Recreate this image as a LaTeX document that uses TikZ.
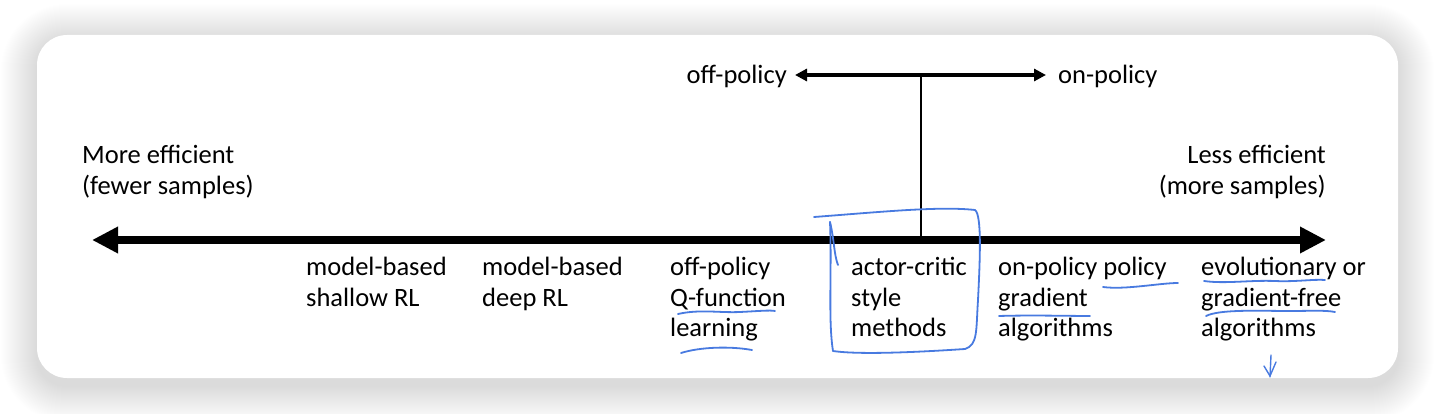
\documentclass[tikz,border=0pt]{standalone}
\usepackage{fontspec}
\setmainfont{Carlito}
\usetikzlibrary{arrows.meta}
\definecolor{pen}{RGB}{72,122,224}
\begin{document}
\begin{tikzpicture}[x=1pt,y=-1pt,
  lbl/.style={inner sep=0pt, align=left, font=\fontsize{26.5}{31}\selectfont},
  ink/.style={draw=pen, line width=1.8pt, line cap=round, line join=round},
  bigarrow/.style={line width=8pt, {Triangle[length=26pt,width=25pt]}-{Triangle[length=26pt,width=25pt]}},
  toparrow/.style={line width=3.5pt, {Triangle[length=12pt,width=12pt]}-{Triangle[length=12pt,width=12pt]}}]
\useasboundingbox (0,0) rectangle (1436,414);
\fill[white] (0,0) rectangle (1436,414);
% shadow
\foreach \i in {1,...,36}{
  \fill[black, opacity=0.0035, rounded corners=30+\i] (37-\i,35-\i+5) rectangle (1398+\i,378+\i+8);
}
\fill[white, rounded corners=30] (37,35) rectangle (1398,378);
% main axis
\coordinate (L) at (92,240);
\coordinate (R) at (1326,240);
\draw[bigarrow] (L) -- (R);
% top arrow
\coordinate (tl) at (795,75);
\coordinate (tr) at (1046,75);
\coordinate (tm) at (921,75);
\coordinate (bm) at (921,240);
\draw[toparrow] (tl) -- (tr);
\draw[line width=1.8pt] (tm) -- (bm);
\node[lbl, anchor=base east] (off) at (787,84) {off-policy};
\node[lbl, anchor=base west] (on) at (1058,84) {on-policy};
% side labels (anchor = baseline of last line)
\node[lbl, anchor=base west] (more) at (82,195) {More efficient\\(fewer samples)};
\node[lbl, anchor=base east, align=right] (less) at (1326,195) {Less efficient\\(more samples)};
% bottom labels
\node[lbl, anchor=base west] (mbs) at (306,306) {model-based\\shallow RL};
\node[lbl, anchor=base west] (mbd) at (482,306) {model-based\\deep RL};
\node[lbl, anchor=base west] (offq) at (670,337) {off-policy\\Q-function\\learning};
\node[lbl, anchor=base west] (ac) at (851,337) {actor-critic\\style\\methods};
\node[lbl, anchor=base west] (pg) at (998,337) {on-policy policy\\gradient\\algorithms};
\node[lbl, anchor=base west] (evo) at (1201,337) {evolutionary or\\gradient-free\\algorithms};
% hand drawn ink
\draw[ink] (814,217) .. controls (880,212) and (940,206) .. (975,210)
  .. controls (982,215) and (980,260) .. (978,300)
  .. controls (976,330) and (978,345) .. (965,349)
  .. controls (920,352) and (860,355) .. (833,351)
  .. controls (828,320) and (832,270) .. (830,222);
\draw[ink] (830,222) .. controls (834,238) and (834,255) .. (838,265);
\draw[ink] (678,314) .. controls (700,309) and (720,313) .. (740,312) .. controls (760,311) and (770,310) .. (775,311);
\draw[ink] (681,353) .. controls (700,347) and (730,346) .. (752,350);
\draw[ink] (1103,287) .. controls (1125,290) and (1160,283) .. (1178,283);
\draw[ink] (999,316) .. controls (1030,315) and (1070,316) .. (1090,316);
\draw[ink] (1204,281) .. controls (1225,284) and (1250,280) .. (1275,281) .. controls (1295,282) and (1315,279) .. (1325,280);
\draw[ink] (1206,316) .. controls (1220,309) and (1260,311) .. (1290,311) .. controls (1310,311) and (1325,310) .. (1335,312);
\coordinate (dtop) at (1271,355);
\coordinate (dbot) at (1270,377);
\draw[ink, line width=1.4pt] (dtop) -- (dbot);
\draw[ink, line width=1.4pt] (1264,366) -- (1270,376) -- (1276,362);
\end{tikzpicture}
\end{document}
